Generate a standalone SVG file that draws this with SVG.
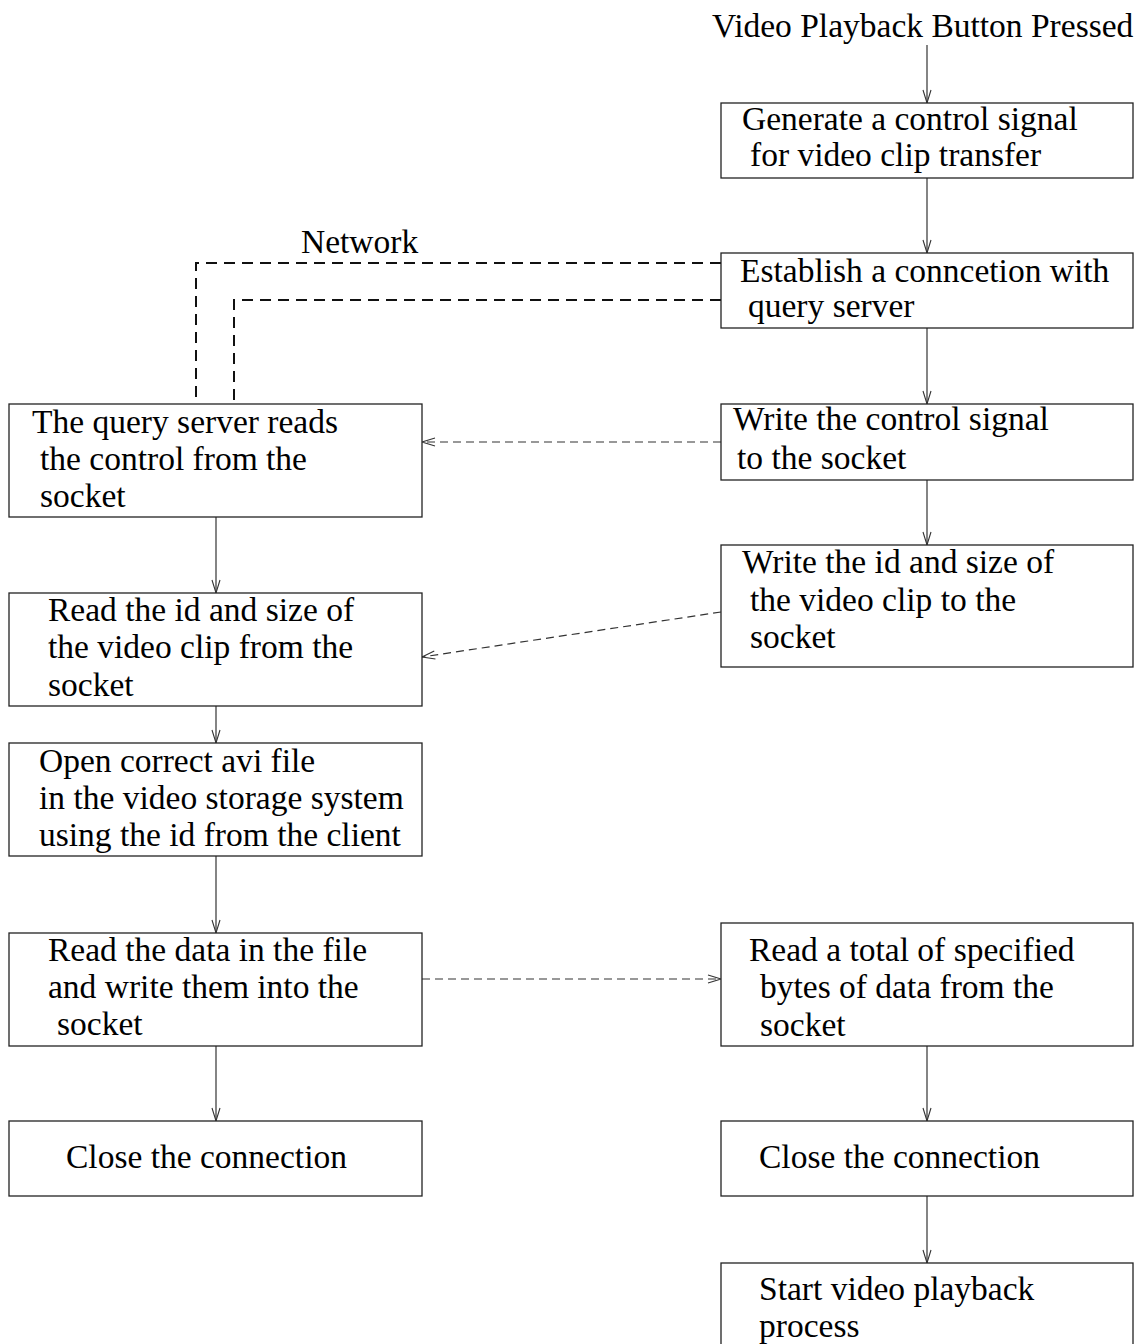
<svg xmlns="http://www.w3.org/2000/svg" width="1141" height="1344" viewBox="0 0 1141 1344">
  <defs>
    <style>
      .box { fill: #fff; stroke: #222; stroke-width: 1.3; }
      .lbl { font-family: "Liberation Serif", "Times New Roman", serif; font-size: 33.5px; fill: #000; }
      .flow { fill: none; stroke: #333; stroke-width: 1.2; }
      .msg { fill: none; stroke: #333; stroke-width: 1.2; stroke-dasharray: 8 5; }
      .net { fill: none; stroke: #111; stroke-width: 2; stroke-dasharray: 11 7; }
    </style>
    <marker id="v" markerWidth="16" markerHeight="10" refX="14" refY="5" orient="auto" markerUnits="userSpaceOnUse">
      <path d="M1,1 L14,5 L1,9" fill="none" stroke="#333" stroke-width="1.1"/>
    </marker>
  </defs>

  <rect width="1141" height="1344" fill="#fff"/>

  <!-- connectors -->
  <g id="connectors">
    <!-- client side flow -->
    <line class="flow" x1="927" y1="45" x2="927" y2="103" marker-end="url(#v)"/>
    <line class="flow" x1="927" y1="178" x2="927" y2="253" marker-end="url(#v)"/>
    <line class="flow" x1="927" y1="328" x2="927" y2="404" marker-end="url(#v)"/>
    <line class="flow" x1="927" y1="480" x2="927" y2="545" marker-end="url(#v)"/>
    <line class="flow" x1="927" y1="1046" x2="927" y2="1121" marker-end="url(#v)"/>
    <line class="flow" x1="927" y1="1196" x2="927" y2="1263" marker-end="url(#v)"/>
    <!-- server side flow -->
    <line class="flow" x1="216" y1="517" x2="216" y2="593" marker-end="url(#v)"/>
    <line class="flow" x1="216" y1="706" x2="216" y2="743" marker-end="url(#v)"/>
    <line class="flow" x1="216" y1="856" x2="216" y2="933" marker-end="url(#v)"/>
    <line class="flow" x1="216" y1="1046" x2="216" y2="1121" marker-end="url(#v)"/>
    <!-- socket messages -->
    <line class="msg" x1="721" y1="442" x2="422" y2="442" marker-end="url(#v)"/>
    <line class="msg" x1="721" y1="612" x2="422" y2="657" marker-end="url(#v)"/>
    <line class="msg" x1="422" y1="979" x2="721" y2="979" marker-end="url(#v)"/>
    <!-- network link -->
    <polyline class="net" points="721,263 196,263 196,404"/>
    <polyline class="net" points="721,300 234,300 234,404"/>
  </g>

  <text class="lbl" x="301" y="253">Network</text>

  <g id="start">
    <text class="lbl" x="712" y="37">Video Playback Button Pressed</text>
  </g>

  <!-- client column -->
  <g id="generate-signal">
    <rect class="box" x="721" y="103" width="412" height="75"/>
    <text class="lbl" x="742" y="130">Generate a control signal</text>
    <text class="lbl" x="750" y="166">for video clip transfer</text>
  </g>
  <g id="establish-connection">
    <rect class="box" x="721" y="253" width="412" height="75"/>
    <text class="lbl" x="740" y="282">Establish a conncetion with</text>
    <text class="lbl" x="748" y="317">query server</text>
  </g>
  <g id="write-control">
    <rect class="box" x="721" y="404" width="412" height="76"/>
    <text class="lbl" x="733" y="430">Write the control signal</text>
    <text class="lbl" x="737" y="469">to the socket</text>
  </g>
  <g id="write-id-size">
    <rect class="box" x="721" y="545" width="412" height="122"/>
    <text class="lbl" x="742" y="573">Write the id and size of</text>
    <text class="lbl" x="750" y="611">the video clip to the</text>
    <text class="lbl" x="750" y="648">socket</text>
  </g>
  <g id="read-bytes">
    <rect class="box" x="721" y="923" width="412" height="123"/>
    <text class="lbl" x="749" y="961">Read a total of specified</text>
    <text class="lbl" x="760" y="998">bytes of data from the</text>
    <text class="lbl" x="760" y="1036">socket</text>
  </g>
  <g id="client-close">
    <rect class="box" x="721" y="1121" width="412" height="75"/>
    <text class="lbl" x="759" y="1168">Close the connection</text>
  </g>
  <g id="start-playback">
    <rect class="box" x="721" y="1263" width="412" height="100"/>
    <text class="lbl" x="759" y="1300">Start video playback</text>
    <text class="lbl" x="759" y="1337">process</text>
  </g>

  <!-- server column -->
  <g id="server-read-control">
    <rect class="box" x="9" y="404" width="413" height="113"/>
    <text class="lbl" x="32" y="433">The query server reads</text>
    <text class="lbl" x="40" y="470">the control from the</text>
    <text class="lbl" x="40" y="507">socket</text>
  </g>
  <g id="server-read-id">
    <rect class="box" x="9" y="593" width="413" height="113"/>
    <text class="lbl" x="48" y="621">Read the id and size of</text>
    <text class="lbl" x="48" y="658">the video clip from the</text>
    <text class="lbl" x="48" y="696">socket</text>
  </g>
  <g id="open-file">
    <rect class="box" x="9" y="743" width="413" height="113"/>
    <text class="lbl" x="39" y="772">Open correct avi file</text>
    <text class="lbl" x="39" y="809">in the video storage system</text>
    <text class="lbl" x="39" y="846">using the id from the client</text>
  </g>
  <g id="send-data">
    <rect class="box" x="9" y="933" width="413" height="113"/>
    <text class="lbl" x="48" y="961">Read the data in the file</text>
    <text class="lbl" x="48" y="998">and write them into the</text>
    <text class="lbl" x="57" y="1035">socket</text>
  </g>
  <g id="server-close">
    <rect class="box" x="9" y="1121" width="413" height="75"/>
    <text class="lbl" x="66" y="1168">Close the connection</text>
  </g>
</svg>
